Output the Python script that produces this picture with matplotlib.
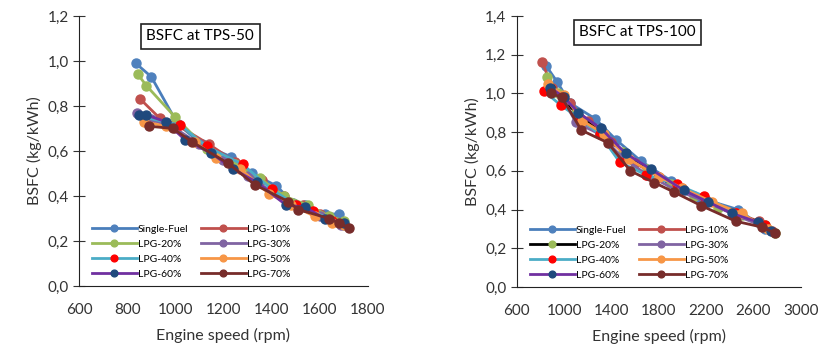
import numpy as np
import matplotlib
matplotlib.use("Agg")
import matplotlib.pyplot as plt
from matplotlib.ticker import FuncFormatter, MultipleLocator

plt.rcParams['font.family'] = ['Lato', 'DejaVu Sans']

labels = ["Single-Fuel", "LPG-10%", "LPG-20%", "LPG-30%",
          "LPG-40%", "LPG-50%", "LPG-60%", "LPG-70%"]

# TPS-50 data
x50 = [
    [835, 900, 1010, 1110, 1230, 1320, 1420, 1490, 1540, 1620, 1680, 1700],
    [855, 936, 1000, 1140, 1250, 1360, 1450, 1530, 1600, 1660, 1690],
    [845, 880, 1000, 1130, 1250, 1350, 1450, 1550, 1640, 1700],
    [840, 900, 1000, 1100, 1200, 1300, 1400, 1500, 1600, 1690],
    [870, 1020, 1130, 1280, 1400, 1500, 1570, 1650],
    [870, 960, 1080, 1170, 1270, 1390, 1480, 1580, 1650, 1700],
    [850, 880, 960, 1040, 1150, 1240, 1340, 1460, 1540, 1620, 1700],
    [890, 990, 1070, 1220, 1330, 1470, 1510, 1640, 1680, 1720],
]
y50 = [
    [0.99, 0.93, 0.72, 0.63, 0.575, 0.50, 0.445, 0.37, 0.36, 0.32, 0.32, 0.27],
    [0.83, 0.745, 0.72, 0.63, 0.55, 0.47, 0.40, 0.36, 0.32, 0.29, 0.28],
    [0.94, 0.89, 0.75, 0.61, 0.54, 0.48, 0.40, 0.36, 0.31, 0.29],
    [0.77, 0.74, 0.70, 0.63, 0.56, 0.49, 0.42, 0.36, 0.31, 0.27],
    [0.75, 0.715, 0.62, 0.54, 0.43, 0.36, 0.335, 0.29],
    [0.73, 0.71, 0.64, 0.57, 0.52, 0.41, 0.36, 0.31, 0.28, 0.27],
    [0.76, 0.76, 0.73, 0.65, 0.59, 0.52, 0.46, 0.36, 0.35, 0.30, 0.28],
    [0.71, 0.70, 0.64, 0.545, 0.45, 0.375, 0.34, 0.30, 0.28, 0.26],
]

# TPS-100 data
x100 = [
    [850, 940, 1050, 1260, 1440, 1650, 1900, 2150, 2470, 2700],
    [815, 900, 1050, 1200, 1400, 1600, 1800, 2000, 2200, 2450, 2650, 2760],
    [857, 950, 1100, 1300, 1500, 1700, 1900, 2100, 2300, 2500, 2700, 2780],
    [870, 1000, 1100, 1300, 1490, 1700, 1950, 2200, 2450, 2700],
    [832, 970, 1130, 1300, 1470, 1690, 1950, 2180, 2450, 2700],
    [860, 1000, 1150, 1340, 1550, 1800, 2000, 2250, 2500, 2720],
    [880, 1000, 1120, 1310, 1520, 1730, 2010, 2215, 2420, 2640, 2750],
    [890, 980, 1145, 1370, 1560, 1760, 1930, 2160, 2450, 2670, 2780],
]
y100 = [
    [1.14, 1.06, 0.95, 0.87, 0.76, 0.65, 0.55, 0.46, 0.40, 0.30],
    [1.16, 1.03, 0.95, 0.86, 0.75, 0.64, 0.57, 0.51, 0.45, 0.38, 0.34, 0.29],
    [1.085, 1.00, 0.90, 0.80, 0.70, 0.61, 0.53, 0.47, 0.41, 0.37, 0.32, 0.28],
    [1.02, 0.96, 0.85, 0.79, 0.67, 0.58, 0.50, 0.44, 0.37, 0.31],
    [1.01, 0.94, 0.87, 0.79, 0.645, 0.58, 0.53, 0.47, 0.38, 0.32],
    [1.05, 0.99, 0.86, 0.79, 0.66, 0.57, 0.51, 0.44, 0.38, 0.30],
    [1.03, 0.98, 0.90, 0.82, 0.69, 0.61, 0.50, 0.44, 0.38, 0.335, 0.29],
    [1.00, 0.98, 0.81, 0.745, 0.60, 0.54, 0.49, 0.42, 0.34, 0.31, 0.28],
]

line_cols = ["#4A7EBB", "#C0504D", "#9BBB59", "#8064A2",
             "#4BACC6", "#F79646", "#7030A0", "#772C2A"]
mark_cols = ["#4F81BD", "#C0504D", "#9BBB59", "#8064A2",
             "#FF0000", "#F79646", "#1F497D", "#772C2A"]
line_cols100 = list(line_cols)
line_cols100[2] = "#000000"

comma = FuncFormatter(lambda v, p: ("%.1f" % v).replace(".", ","))


def draw(ax, xs, ys, lcols, title, ymax, xticks, tx, ty):
    handles = []
    for i in range(len(labels)):
        h, = ax.plot(xs[i], ys[i], color=lcols[i], lw=2, marker="o", ms=6.5,
                     mfc=mark_cols[i], mec=mark_cols[i], label=labels[i])
        handles.append(h)
    ax.set_xlim(xticks[0], xticks[-1])
    ax.set_ylim(0, ymax)
    ax.set_xticks(xticks)
    ax.yaxis.set_major_locator(MultipleLocator(0.2))
    ax.yaxis.set_major_formatter(comma)
    for s in ["top", "right"]:
        ax.spines[s].set_visible(False)
    ax.spines["left"].set_color("#222222")
    ax.spines["bottom"].set_color("#222222")
    ax.tick_params(axis="y", direction="inout", length=8, labelsize=11, colors="#333333")
    ax.tick_params(axis="x", length=0, labelsize=11, colors="#333333", pad=12)
    ax.set_xlabel("Engine speed (rpm)", fontsize=11.5, color="#333333", labelpad=8)
    ax.set_ylabel("BSFC (kg/kWh)", fontsize=11.5, color="#333333")
    ax.text(tx, ty, title, transform=ax.transAxes, ha="center", va="center",
            fontsize=11, bbox=dict(boxstyle="square,pad=0.35", fc="white", ec="#222222", lw=1.2))
    order = [0, 2, 4, 6, 1, 3, 5, 7]
    ax.legend([handles[k] for k in order], [labels[k] for k in order], ncol=2,
              loc="lower left", bbox_to_anchor=(0.02, 0.0), frameon=False,
              fontsize=7.5, handlelength=4.3, columnspacing=1.2, labelspacing=0.55,
              handletextpad=0.1, markerscale=0.75, borderaxespad=0.3)


fig = plt.figure(figsize=(8.23, 3.54), dpi=100)
ax1 = fig.add_axes([0.096, 0.192, 0.351, 0.763])
ax2 = fig.add_axes([0.628, 0.189, 0.345, 0.766])

draw(ax1, x50, y50, line_cols, "BSFC at TPS-50", 1.2,
     np.arange(600, 1801, 200), 0.42, 0.925)
draw(ax2, x100, y100, line_cols100, "BSFC at TPS-100", 1.4,
     np.arange(600, 3001, 400), 0.424, 0.94)

fig.savefig("out.png", dpi=100)
